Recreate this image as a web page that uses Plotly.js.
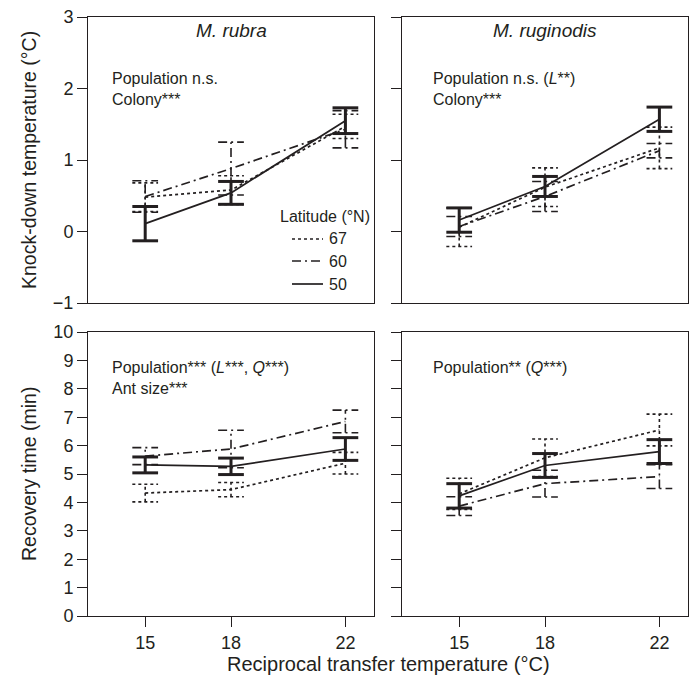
<!DOCTYPE html>
<html>
<head>
<meta charset="utf-8">
<script src="https://cdn.plot.ly/plotly-3.0.1.min.js"></script>
<style>
  html, body { margin: 0; padding: 0; background: #fff; }
  #chart { width: 694px; height: 679px; }
</style>
</head>
<body>
<div id="chart"></div>
<script>
// ---------------- DATA ----------------
const temps = [15, 18, 22];                 // reciprocal transfer temperature (°C)
const tickLabels = ['15', '18', '22'];
const latitudes = ['67', '60', '50'];       // latitude (°N)

// Knock-down temperature (°C), M. rubra
const kdRubra67 = [0.48, 0.58, 1.47];
const kdRubra67Err = [0.20, 0.20, 0.17];
const kdRubra60 = [0.49, 0.88, 1.43];
const kdRubra60Err = [0.22, 0.37, 0.26];
const kdRubra50 = [0.11, 0.54, 1.55];
const kdRubra50Err = [0.24, 0.16, 0.18];

// Knock-down temperature (°C), M. ruginodis
const kdRugi67 = [0.06, 0.62, 1.17];
const kdRugi67Err = [0.27, 0.27, 0.29];
const kdRugi60 = [0.07, 0.49, 1.13];
const kdRugi60Err = [0.14, 0.21, 0.10];
const kdRugi50 = [0.16, 0.63, 1.57];
const kdRugi50Err = [0.17, 0.14, 0.17];

// Recovery time (min), M. rubra
const rtRubra67 = [4.33, 4.45, 5.38];
const rtRubra67Err = [0.31, 0.25, 0.38];
const rtRubra60 = [5.63, 5.88, 6.85];
const rtRubra60Err = [0.30, 0.66, 0.40];
const rtRubra50 = [5.32, 5.27, 5.88];
const rtRubra50Err = [0.28, 0.29, 0.40];

// Recovery time (min), M. ruginodis
const rtRugi67 = [4.30, 5.57, 6.55];
const rtRugi67Err = [0.55, 0.66, 0.56];
const rtRugi60 = [3.87, 4.66, 4.91];
const rtRugi60Err = [0.33, 0.47, 0.42];
const rtRugi50 = [4.23, 5.30, 5.79];
const rtRugi50Err = [0.43, 0.42, 0.42];

const panelTitles = ['M. rubra', 'M. ruginodis'];
const statsText = [
  'Population n.s.<br>Colony***',
  'Population n.s. (<i>L</i>**)<br>Colony***',
  'Population*** (<i>L</i>***, <i>Q</i>***)<br>Ant size***',
  'Population** (<i>Q</i>***)'
];

// ---------------- STYLE ----------------
const INK = '#231f20';
const FONT = 'Liberation Sans, Arial, sans-serif';
const dashOf = { '67': '3px,3px', '60': '9px,4px,2px,4px', '50': 'solid' };
const errWidthOf = { '67': 1.6, '60': 1.6, '50': 3 };
const capHalf = 0.45;

// ---------------- TRACES ----------------
const panels = [
  { xa: 'x',  ya: 'y',  series: [[kdRubra67, kdRubra67Err], [kdRubra60, kdRubra60Err], [kdRubra50, kdRubra50Err]] },
  { xa: 'x2', ya: 'y2', series: [[kdRugi67, kdRugi67Err], [kdRugi60, kdRugi60Err], [kdRugi50, kdRugi50Err]] },
  { xa: 'x3', ya: 'y3', series: [[rtRubra67, rtRubra67Err], [rtRubra60, rtRubra60Err], [rtRubra50, rtRubra50Err]] },
  { xa: 'x4', ya: 'y4', series: [[rtRugi67, rtRugi67Err], [rtRugi60, rtRugi60Err], [rtRugi50, rtRugi50Err]] }
];

const traces = [];
panels.forEach(p => {
  p.series.forEach((s, k) => {
    const lat = latitudes[k];
    const mean = s[0], err = s[1];
    const ex = [], ey = [];
    temps.forEach((t, i) => {
      const lo = mean[i] - err[i], hi = mean[i] + err[i];
      ex.push(t, t, null, t - capHalf, t + capHalf, null, t - capHalf, t + capHalf, null);
      ey.push(lo, hi, null, hi, hi, null, lo, lo, null);
    });
    traces.push({
      type: 'scatter', mode: 'lines', x: ex, y: ey, xaxis: p.xa, yaxis: p.ya,
      line: { color: INK, width: errWidthOf[lat], dash: dashOf[lat] },
      showlegend: false, hoverinfo: 'skip', connectgaps: false
    });
    traces.push({
      type: 'scatter', mode: 'lines', x: temps, y: mean, xaxis: p.xa, yaxis: p.ya,
      name: lat,
      line: { color: INK, width: 1.7, dash: dashOf[lat] },
      showlegend: false
    });
  });
});

// ---------------- LAYOUT ----------------
const W = 694, H = 679;
const M = { l: 88, r: 6, t: 17, b: 63 };
const PW = W - M.l - M.r, PH = H - M.t - M.b;
const px = v => (v - M.l) / PW;          // pixel -> paper x
const py = v => (H - M.b - v) / PH;      // pixel -> paper y

const xDomL = [0, px(374)], xDomR = [px(402), 1];
const yDomT = [py(303), 1], yDomB = [0, py(332)];

const tickFont = { family: FONT, size: 18, color: INK };
function xAxis(domain, anchor, bottom) {
  return {
    domain, anchor, range: [13, 23], tickvals: temps, ticktext: tickLabels,
    showline: true, mirror: true, linecolor: INK, linewidth: 1,
    ticks: bottom ? 'outside' : '', ticklen: 10, tickcolor: INK, tickwidth: 1,
    showticklabels: bottom, tickfont: tickFont,
    showgrid: false, zeroline: false, fixedrange: true
  };
}
function yAxis(domain, anchor, range, labels) {
  return {
    domain, anchor, range, dtick: 1, tick0: 0,
    showline: true, mirror: true, linecolor: INK, linewidth: 1,
    ticks: 'outside', ticklen: 10, tickcolor: INK, tickwidth: 1,
    showticklabels: labels, tickfont: tickFont,
    showgrid: false, zeroline: false, fixedrange: true
  };
}

const annFont = { family: FONT, size: 16, color: INK };
function ann(text, x, y, opts) {
  return Object.assign({ text, x: px(x), y: py(y), xref: 'paper', yref: 'paper',
    xanchor: 'center', yanchor: 'middle', showarrow: false, font: annFont }, opts || {});
}
const annotations = [
  ann('<i>' + panelTitles[0] + '</i>', 231, 30, { font: { family: FONT, size: 19, color: INK } }),
  ann('<i>' + panelTitles[1] + '</i>', 545, 30, { font: { family: FONT, size: 19, color: INK } }),
  ann(statsText[0], 110, 68, { xanchor: 'left', yanchor: 'top', align: 'left' }),
  ann(statsText[1], 431, 68, { xanchor: 'left', yanchor: 'top', align: 'left' }),
  ann(statsText[2], 110, 357, { xanchor: 'left', yanchor: 'top', align: 'left' }),
  ann(statsText[3], 431, 357, { xanchor: 'left', yanchor: 'top', align: 'left' }),
  ann('Knock-down temperature (°C)', 29, 160, { textangle: -90, font: { family: FONT, size: 19.5, color: INK } }),
  ann('Recovery time (min)', 29, 474, { textangle: -90, font: { family: FONT, size: 19.5, color: INK } }),
  ann('Reciprocal transfer temperature (°C)', 388, 664, { font: { family: FONT, size: 20, color: INK } }),
  ann('Latitude (°N)', 278, 216, { xanchor: 'left' })
];
const shapes = [];
const legendY = [239, 261, 284];
latitudes.forEach((lat, k) => {
  annotations.push(ann(lat, 327, legendY[k], { xanchor: 'left' }));
  shapes.push({ type: 'line', xref: 'paper', yref: 'paper', x0: px(292), x1: px(323),
    y0: py(legendY[k]), y1: py(legendY[k]), line: { color: INK, width: 1.7, dash: dashOf[lat] } });
});

const layout = {
  width: W, height: H, margin: M,
  paper_bgcolor: '#fff', plot_bgcolor: '#fff',
  showlegend: false,
  font: { family: FONT, color: INK },
  xaxis: xAxis(xDomL, 'y', false),
  yaxis: yAxis(yDomT, 'x', [-1, 3], true),
  xaxis2: xAxis(xDomR, 'y2', false),
  yaxis2: yAxis(yDomT, 'x2', [-1, 3], false),
  xaxis3: xAxis(xDomL, 'y3', true),
  yaxis3: yAxis(yDomB, 'x3', [0, 10], true),
  xaxis4: xAxis(xDomR, 'y4', true),
  yaxis4: yAxis(yDomB, 'x4', [0, 10], false),
  annotations, shapes
};

Plotly.newPlot('chart', traces, layout, { staticPlot: true, displayModeBar: false });
</script>
</body>
</html>
